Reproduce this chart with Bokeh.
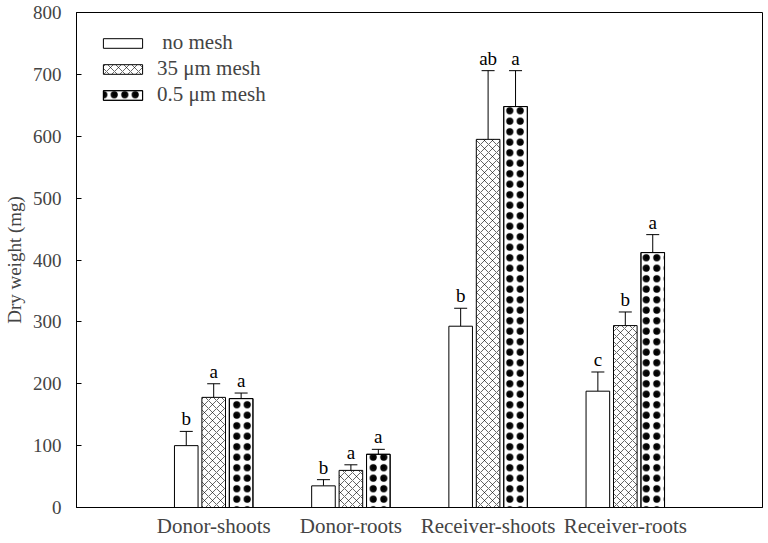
from bokeh.plotting import figure
from bokeh.models import (ColumnDataSource, Whisker, TeeHead, Legend, LegendItem,
                          FixedTicker, Range1d)
from bokeh.embed import file_html
from bokeh.resources import INLINE
from bokeh.core.properties import value

categories = ["Donor-shoots", "Donor-roots", "Receiver-shoots", "Receiver-roots"]
series_names = [" no mesh", "35 \u03bcm mesh", "0.5 \u03bcm mesh"]
no_mesh = [100, 35, 293, 188]
mesh_35 = [178, 60, 595, 294]
mesh_05 = [176, 86, 648, 412]
err_no = [23, 10, 29, 31]
err_35 = [22, 9, 111, 22]
err_05 = [9, 8, 58, 29]
let_no = ["b", "b", "b", "c"]
let_35 = ["a", "a", "ab", "b"]
let_05 = ["a", "a", "a", "a"]
y_ticks = [0, 100, 200, 300, 400, 500, 600, 700, 800]

FONT = "Liberation Serif"

p = figure(width=765, height=540, output_backend="svg", toolbar_location=None,
           x_range=Range1d(0, 5), y_range=Range1d(0, 800),
           min_border_left=73, min_border_right=3, min_border_top=12, min_border_bottom=33)
p.xgrid.visible = False
p.ygrid.visible = False
p.outline_line_color = "black"
p.outline_line_width = 1
p.background_fill_color = "white"
p.border_fill_color = "white"

offsets = [-0.2, 0.0, 0.2]
series = [no_mesh, mesh_35, mesh_05]
errs = [err_no, err_35, err_05]
letters = [let_no, let_35, let_05]
hatches = [dict(), dict(hatch_pattern="x", hatch_scale=8, hatch_weight=0.6, hatch_color="black"),
           dict(hatch_pattern="o", hatch_scale=10.5, hatch_weight=1.8, hatch_color="black")]

legend_items = []
for k in range(3):
    xs = [i + 1 + offsets[k] for i in range(len(categories))]
    tops = [v + e for v, e in zip(series[k], errs[k])]
    src = ColumnDataSource(dict(x=xs, y=series[k], top=tops, lab=letters[k]))
    r = p.vbar(x="x", top="y", bottom=0, width=0.172, source=src,
               fill_color="white", line_color="black", line_width=1, **hatches[k])
    rs = [r]
    if k == 2:
        r2 = p.vbar(x="x", top="y", bottom=0, width=0.172, source=src,
                    fill_color=None, line_color="black", line_width=1,
                    hatch_pattern=".", hatch_scale=10.5, hatch_color="black")
        rs.append(r2)
    legend_items.append(LegendItem(label=series_names[k], renderers=rs))
    w = Whisker(base="x", lower="y", upper="top", source=src, line_color="black", line_width=1,
                upper_head=TeeHead(size=13, line_color="black", line_width=1), lower_head=None)
    p.add_layout(w)
    p.text(x="x", y="top", text="lab", source=src, text_align="center", text_baseline="bottom",
           y_offset=-2, text_font=value(FONT), text_font_size="19px", text_color="black")

legend = Legend(items=legend_items,
                location=(22, 400), orientation="vertical", border_line_color=None,
                background_fill_alpha=0, glyph_width=49, glyph_height=12, label_standoff=10,
                spacing=1, padding=0, margin=0,
                label_text_font=FONT, label_text_font_size="21px")
p.add_layout(legend)

p.xaxis.ticker = FixedTicker(ticks=[i + 1 for i in range(len(categories))])
p.xaxis.major_label_overrides = {i + 1: c for i, c in enumerate(categories)}
p.xaxis.major_tick_in = 0
p.xaxis.major_tick_out = 0
p.xaxis.minor_tick_in = 0
p.xaxis.minor_tick_out = 0
p.xaxis.major_label_standoff = 6
p.xaxis.major_label_text_font = FONT
p.xaxis.major_label_text_font_size = "21px"
p.xaxis.axis_line_color = "black"

p.yaxis.ticker = FixedTicker(ticks=y_ticks)
p.yaxis.major_tick_in = 5
p.yaxis.major_tick_out = 0
p.yaxis.minor_tick_in = 0
p.yaxis.minor_tick_out = 0
p.yaxis.major_label_standoff = 15
p.yaxis.major_label_text_font = FONT
p.yaxis.major_label_text_font_size = "19px"
p.yaxis.axis_label = "Dry weight (mg)"
p.yaxis.axis_label_text_font = FONT
p.yaxis.axis_label_text_font_size = "19px"
p.yaxis.axis_label_text_font_style = "normal"
p.yaxis.axis_label_standoff = 5
p.yaxis.axis_line_color = "black"

open("out.html", "w").write(file_html(p, INLINE))
